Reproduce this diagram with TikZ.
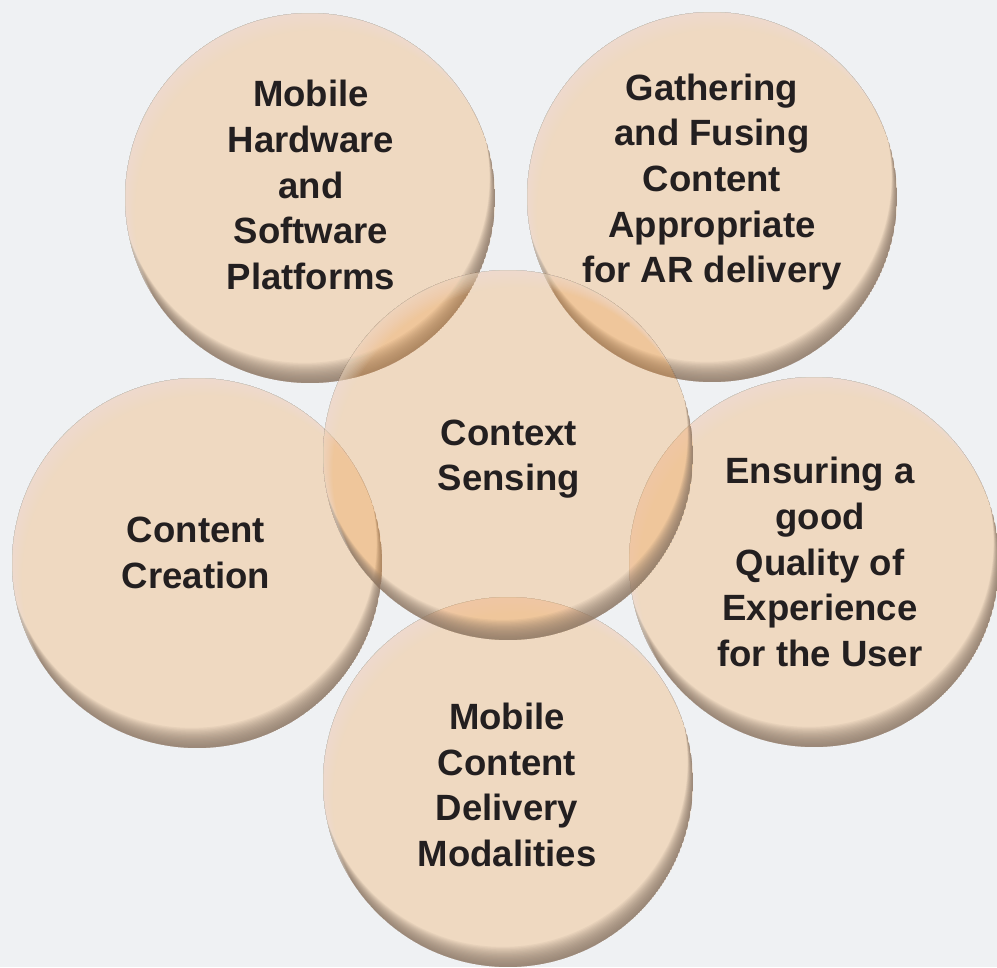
\documentclass[tikz,border=0pt]{standalone}
\usepackage{fontspec}
\setmainfont{Liberation Sans}

\definecolor{paper}{HTML}{EFF1F3}
\definecolor{peach}{RGB}{243,141,35}
\definecolor{rimdark}{HTML}{857365}
\definecolor{rimlight}{HTML}{EEE9E3}
\definecolor{ink}{HTML}{231F20}

\begin{document}
\begin{tikzpicture}[x=0.02cm, y=-0.02cm,
  disc/.style = {fill=peach, fill opacity=0.24},
  shadow/.style = {fill=rimdark, fill opacity=0.083, even odd rule},
  shine/.style = {fill=rimlight, fill opacity=0.056, even odd rule},
  txt/.style = {align=center, text=ink, font=\bfseries\fontsize{20.8}{26}\selectfont}]
\fill[paper] (0,0) rectangle (997,967);
\useasboundingbox (0,0) rectangle (997,967);

% disc centres
\coordinate (c-hw) at (310,198);
\coordinate (c-fuse) at (712,197);
\coordinate (c-create) at (197,563);
\coordinate (c-qoe) at (814,562);
\coordinate (c-deliv) at (508,782);
\coordinate (c-ctx) at (508,455);

% translucent discs, dark crescent at the bottom, pale one at the top left
\foreach \d in {hw,fuse,create,qoe,deliv,ctx} {
  \fill[disc] (c-\d) circle (3.7cm);
  \begin{scope}
    \clip (c-\d) circle (3.7cm);
    \foreach \s in {1,...,16}
      \fill[shadow] (c-\d) circle (3.7cm) (c-\d) ++(105:\s*0.026cm) circle (3.7cm);
    \foreach \s in {1,...,12}
      \fill[shine] (c-\d) circle (3.7cm) (c-\d) ++(-60:\s*0.032cm) circle (3.7cm);
  \end{scope}
}

% labels
\node[txt] (hw) at (311,185) {Mobile\\Hardware\\and\\Software\\Platforms};
\node[txt] (fuse) at (712,182) {Gathering\\and Fusing\\Content\\Appropriate\\for AR delivery};
\node[txt] (create) at (196,553) {Content\\Creation};
\node[txt] (ctx) at (509,459) {Context\\Sensing};
\node[txt] (qoe) at (820,562) {Ensuring a\\good\\Quality of\\Experience\\for the User};
\node[txt] (deliv) at (507,785) {Mobile\\Content\\Delivery\\Modalities};
\end{tikzpicture}
\end{document}
